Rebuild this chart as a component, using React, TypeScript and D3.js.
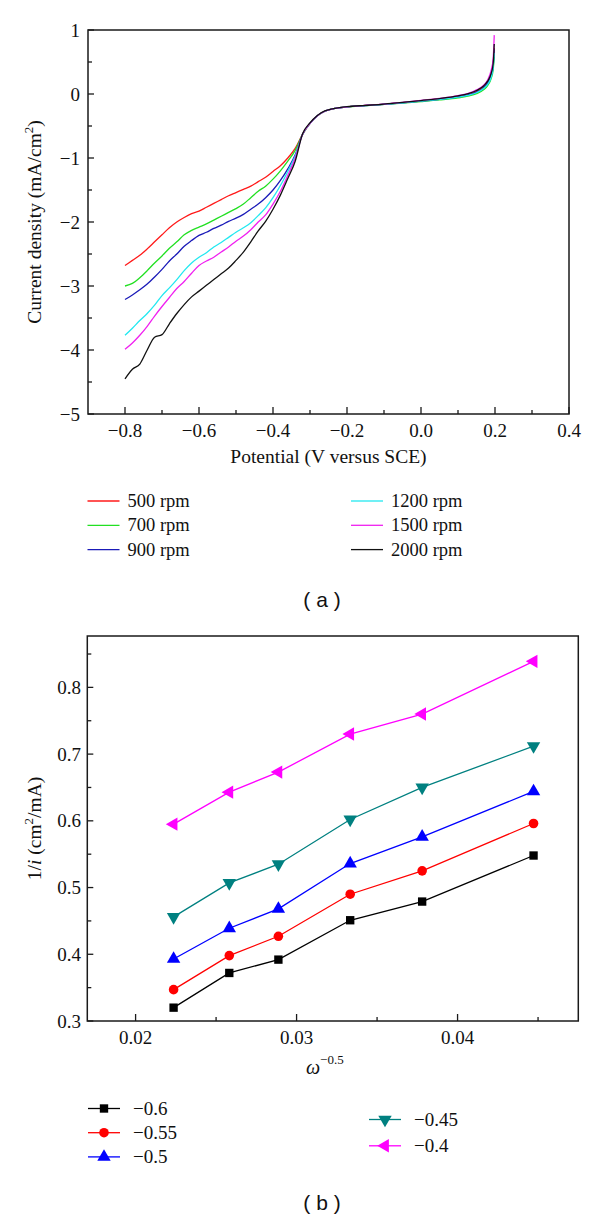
import React from "react";
import * as d3 from "d3";

// ---------- Panel (a) data ----------
const potential = [
  -0.8, -0.78, -0.76, -0.74, -0.72, -0.7, -0.68, -0.66, -0.64, -0.62, -0.6, -0.58,
  -0.56, -0.54, -0.52, -0.5, -0.48, -0.46, -0.44, -0.42, -0.4, -0.38, -0.36, -0.34,
  -0.32, -0.3, -0.28, -0.26, -0.24, -0.22, -0.2, -0.15, -0.1, -0.05, 0, 0.05, 0.1,
  0.13, 0.15, 0.17, 0.18, 0.19, 0.195, 0.198,
];
const rpm500 = [
  -2.68, -2.6, -2.52, -2.42, -2.31, -2.2, -2.09, -2.0, -1.93, -1.87, -1.83, -1.77,
  -1.71, -1.65, -1.59, -1.54, -1.49, -1.44, -1.37, -1.3, -1.21, -1.12, -1.0, -0.85,
  -0.63, -0.46, -0.34, -0.27, -0.235, -0.215, -0.2, -0.18, -0.16, -0.135, -0.105, -0.077,
  -0.04, -0.005, 0.04, 0.11, 0.18, 0.3, 0.44, 0.72,
];
const rpm700 = [
  -3.0, -2.96, -2.87, -2.76, -2.64, -2.53, -2.41, -2.31, -2.2, -2.13, -2.08, -2.03,
  -1.97, -1.91, -1.85, -1.79, -1.72, -1.62, -1.52, -1.44, -1.33, -1.2, -1.05, -0.88,
  -0.63, -0.46, -0.34, -0.27, -0.235, -0.215, -0.2, -0.182, -0.163, -0.142, -0.118, -0.092,
  -0.06, -0.03, 0.005, 0.07, 0.13, 0.25, 0.38, 0.58,
];
const rpm900 = [
  -3.21, -3.14, -3.06, -2.97, -2.86, -2.74, -2.61, -2.5, -2.38, -2.29, -2.21, -2.16,
  -2.1, -2.05, -1.99, -1.94, -1.88, -1.8, -1.72, -1.62, -1.5, -1.35, -1.17, -0.95,
  -0.63, -0.46, -0.34, -0.27, -0.235, -0.215, -0.2, -0.18, -0.16, -0.137, -0.11, -0.082,
  -0.045, -0.01, 0.03, 0.1, 0.17, 0.29, 0.43, 0.7,
];
const rpm1200 = [
  -3.77, -3.66, -3.54, -3.43, -3.3, -3.15, -3.03, -2.9, -2.76, -2.64, -2.55, -2.48,
  -2.39, -2.32, -2.24, -2.16, -2.09, -2.01, -1.9, -1.78, -1.62, -1.43, -1.21, -0.97,
  -0.63, -0.46, -0.34, -0.27, -0.235, -0.215, -0.2, -0.181, -0.161, -0.138, -0.112, -0.085,
  -0.05, -0.018, 0.02, 0.09, 0.15, 0.27, 0.41, 0.64,
];
const rpm1500 = [
  -3.99, -3.89, -3.77, -3.63, -3.47, -3.32, -3.18, -3.04, -2.93, -2.8, -2.68, -2.61,
  -2.55, -2.47, -2.39, -2.3, -2.22, -2.12, -2.0, -1.89, -1.72, -1.52, -1.27, -1.0,
  -0.63, -0.46, -0.34, -0.27, -0.235, -0.215, -0.2, -0.178, -0.157, -0.13, -0.1, -0.068,
  -0.025, 0.015, 0.065, 0.14, 0.22, 0.38, 0.55, 0.92,
];
const rpm2000 = [
  -4.45, -4.3, -4.22, -4.0, -3.8, -3.76, -3.59, -3.43, -3.29, -3.17, -3.08, -2.99,
  -2.9, -2.81, -2.72, -2.6, -2.47, -2.31, -2.14, -1.99, -1.8, -1.58, -1.32, -1.05,
  -0.62, -0.45, -0.335, -0.265, -0.232, -0.212, -0.198, -0.178, -0.158, -0.132, -0.102, -0.072,
  -0.03, 0.008, 0.055, 0.13, 0.2, 0.33, 0.47, 0.78,
];
const rpmLabels = ["500 rpm", "700 rpm", "900 rpm", "1200 rpm", "1500 rpm", "2000 rpm"];
const rpmColors = ["#ff1a1a", "#22e022", "#1a1ab8", "#22e8f0", "#f020f0", "#111111"];

const xTicksA = [-0.8, -0.6, -0.4, -0.2, 0, 0.2, 0.4];
const xMinorA = [-0.7, -0.5, -0.3, -0.1, 0.1, 0.3];
const yTicksA = [1, 0, -1, -2, -3, -4, -5];
const yMinorA = [0.5, -0.5, -1.5, -2.5, -3.5, -4.5];

// ---------- Panel (b) data ----------
const omega = [0.02236, 0.02582, 0.02887, 0.03333, 0.0378, 0.04472];
const invI_060 = [0.32, 0.372, 0.392, 0.451, 0.479, 0.548];
const invI_055 = [0.347, 0.398, 0.427, 0.49, 0.525, 0.596];
const invI_050 = [0.393, 0.439, 0.468, 0.536, 0.576, 0.644];
const invI_045 = [0.456, 0.507, 0.535, 0.602, 0.65, 0.712];
const invI_040 = [0.595, 0.643, 0.673, 0.73, 0.76, 0.839];
const potLabels = ["\u22120.6", "\u22120.55", "\u22120.5", "\u22120.45", "\u22120.4"];
const potColors = ["#000000", "#ff0000", "#0000ff", "#008080", "#ff00ff"];

const xTicksB = [0.02, 0.03, 0.04];
const xMinorB = [0.025, 0.035, 0.045];
const yTicksB = [0.3, 0.4, 0.5, 0.6, 0.7, 0.8];
const yMinorB = [0.35, 0.45, 0.55, 0.65, 0.75, 0.85];

const SERIF = "'Liberation Serif', 'Times New Roman', serif";
const SANS = "'Liberation Sans', Arial, sans-serif";

function markerPath(i: number) {
  const types = [d3.symbolSquare, d3.symbolCircle, d3.symbolTriangle, d3.symbolTriangle, d3.symbolTriangle];
  const sizes = [70, 72, 78, 78, 78];
  return d3.symbol().type(types[i]).size(sizes[i])() as string;
}
const markerRot = [0, 0, 0, 180, -90];

export default function App() {
  // Panel (a)
  const xA = d3.scaleLinear().domain([-0.9, 0.4]).range([88, 569]);
  const yA = d3.scaleLinear().domain([-5, 1]).range([414, 30]);
  const seriesA = [rpm500, rpm700, rpm900, rpm1200, rpm1500, rpm2000];
  const lineA = d3
    .line<[number, number]>()
    .x((d) => xA(d[0]))
    .y((d) => yA(d[1]))
    .curve(d3.curveMonotoneX);
  const fmtA = d3.format(".1f");
  const fmtAy = d3.format("d");

  // Panel (b)
  const xB = d3.scaleLinear().domain([0.017, 0.0475]).range([87.3, 578.3]);
  const yB = d3.scaleLinear().domain([0.3, 0.877]).range([1021, 636]);
  const seriesB = [invI_060, invI_055, invI_050, invI_045, invI_040];
  const lineB = d3
    .line<[number, number]>()
    .x((d) => xB(d[0]))
    .y((d) => yB(d[1]));
  const fmtB = d3.format(".2f");
  const fmtBy = d3.format(".1f");

  const axisColor = "#1a1a1a";
  const tickFs = 19;
  const titleFs = 19.5;

  return (
    <svg
      width={600}
      height={1219}
      style={{ position: "absolute", left: 0, top: 0, background: "#fff" }}
      fontFamily={SERIF}
    >
      <rect x={0} y={0} width={600} height={1219} fill="#fff" />
      {/* ===== Panel (a) ===== */}
      <g>
        {seriesA.map((vals, i) => (
          <path
            key={i}
            d={lineA(potential.map((p, j) => [p, vals[j]] as [number, number])) as string}
            fill="none"
            stroke={rpmColors[i]}
            strokeWidth={1.3}
          />
        ))}
        <rect
          x={xA(-0.9)}
          y={yA(1)}
          width={xA(0.4) - xA(-0.9)}
          height={yA(-5) - yA(1)}
          fill="none"
          stroke={axisColor}
          strokeWidth={1.5}
        />
        {xTicksA.map((t) => (
          <g key={"xa" + t}>
            <line x1={xA(t)} x2={xA(t)} y1={yA(-5)} y2={yA(-5) - 7} stroke={axisColor} strokeWidth={1.3} />
            <text x={xA(t)} y={yA(-5) + 23} fontSize={tickFs} textAnchor="middle" fill="#111">
              {fmtA(t)}
            </text>
          </g>
        ))}
        {xMinorA.map((t) => (
          <line key={"xam" + t} x1={xA(t)} x2={xA(t)} y1={yA(-5)} y2={yA(-5) - 4} stroke={axisColor} strokeWidth={1.3} />
        ))}
        {yTicksA.map((t) => (
          <g key={"ya" + t}>
            <line x1={xA(-0.9)} x2={xA(-0.9) + 6} y1={yA(t)} y2={yA(t)} stroke={axisColor} strokeWidth={1.3} />
            <text x={80} y={yA(t) + 6.5} fontSize={tickFs} textAnchor="end" fill="#111">
              {fmtAy(t)}
            </text>
          </g>
        ))}
        {yMinorA.map((t) => (
          <line key={"yam" + t} x1={xA(-0.9)} x2={xA(-0.9) + 4} y1={yA(t)} y2={yA(t)} stroke={axisColor} strokeWidth={1.3} />
        ))}
        <text x={(xA(-0.9) + xA(0.4)) / 2} y={463} fontSize={titleFs} textAnchor="middle" fill="#111">
          Potential (V versus SCE)
        </text>
        <text
          transform={`translate(41, ${(yA(1) + yA(-5)) / 2}) rotate(-90)`}
          fontSize={titleFs}
          textAnchor="middle"
          fill="#111"
        >
          Current density (mA/cm
          <tspan dy={-8} fontSize={13}>2</tspan>
          <tspan dy={8}>)</tspan>
        </text>
        {/* legend (a) */}
        {rpmLabels.map((lab, i) => {
          const col = Math.floor(i / 3);
          const row = i % 3;
          const lx = col === 0 ? 87.5 : 351;
          const ly = 501 + row * 24.3;
          return (
            <g key={lab}>
              <line x1={lx} x2={lx + 32} y1={ly} y2={ly} stroke={rpmColors[i]} strokeWidth={1.3} />
              <text x={lx + 40} y={ly + 6} fontSize={18.5} fill="#111">
                {lab}
              </text>
            </g>
          );
        })}
        <text x={322} y={607} fontSize={21} fontFamily={SANS} textAnchor="middle" fill="#111" xmlSpace="preserve">
          ( a )
        </text>
      </g>

      {/* ===== Panel (b) ===== */}
      <g>
        {seriesB.map((vals, i) => (
          <g key={"sb" + i}>
            <path
              d={lineB(omega.map((o, j) => [o, vals[j]] as [number, number])) as string}
              fill="none"
              stroke={potColors[i]}
              strokeWidth={1.3}
            />
            {omega.map((o, j) => (
              <path
                key={j}
                d={markerPath(i)}
                transform={`translate(${xB(o)}, ${yB(vals[j])}) rotate(${markerRot[i]})`}
                fill={potColors[i]}
              />
            ))}
          </g>
        ))}
        <rect
          x={xB(0.017)}
          y={yB(0.877)}
          width={xB(0.0475) - xB(0.017)}
          height={yB(0.3) - yB(0.877)}
          fill="none"
          stroke={axisColor}
          strokeWidth={1.5}
        />
        {xTicksB.map((t) => (
          <g key={"xb" + t}>
            <line x1={xB(t)} x2={xB(t)} y1={yB(0.3)} y2={yB(0.3) - 7} stroke={axisColor} strokeWidth={1.3} />
            <text x={xB(t)} y={yB(0.3) + 23} fontSize={tickFs} textAnchor="middle" fill="#111">
              {fmtB(t)}
            </text>
          </g>
        ))}
        {xMinorB.map((t) => (
          <line key={"xbm" + t} x1={xB(t)} x2={xB(t)} y1={yB(0.3)} y2={yB(0.3) - 4} stroke={axisColor} strokeWidth={1.3} />
        ))}
        {yTicksB.map((t) => (
          <g key={"yb" + t}>
            <line x1={xB(0.017)} x2={xB(0.017) + 6} y1={yB(t)} y2={yB(t)} stroke={axisColor} strokeWidth={1.3} />
            <text x={81} y={yB(t) + 6.5} fontSize={tickFs} textAnchor="end" fill="#111">
              {fmtBy(t)}
            </text>
          </g>
        ))}
        {yMinorB.map((t) => (
          <line key={"ybm" + t} x1={xB(0.017)} x2={xB(0.017) + 4} y1={yB(t)} y2={yB(t)} stroke={axisColor} strokeWidth={1.3} />
        ))}
        <text x={(xB(0.017) + xB(0.0475)) / 2 - 8} y={1074} fontSize={20} textAnchor="middle" fill="#111">
          <tspan fontStyle="italic">ω</tspan>
          <tspan dy={-10} fontSize={13}>−0.5</tspan>
        </text>
        <text
          transform={`translate(41, ${(yB(0.3) + yB(0.877)) / 2}) rotate(-90)`}
          fontSize={titleFs}
          textAnchor="middle"
          fill="#111"
        >
          1/<tspan fontStyle="italic">i</tspan> (cm
          <tspan dy={-8} fontSize={13}>2</tspan>
          <tspan dy={8}>/mA)</tspan>
        </text>
        {/* legend (b) */}
        {potLabels.map((lab, i) => {
          const col = i < 3 ? 0 : 1;
          const lx = col === 0 ? 88 : 369;
          const ly = col === 0 ? 1108.5 + i * 24.2 : 1119.5 + (i - 3) * 26.3;
          return (
            <g key={lab}>
              <line x1={lx} x2={lx + 32} y1={ly} y2={ly} stroke={potColors[i]} strokeWidth={1.3} />
              <path
                d={markerPath(i)}
                transform={`translate(${lx + 16}, ${ly}) rotate(${markerRot[i]})`}
                fill={potColors[i]}
              />
              <text x={lx + 45} y={ly + 6.5} fontSize={19} fill="#111">
                {lab}
              </text>
            </g>
          );
        })}
        <text x={322} y={1210} fontSize={21} fontFamily={SANS} textAnchor="middle" fill="#111" xmlSpace="preserve">
          ( b )
        </text>
      </g>
    </svg>
  );
}
